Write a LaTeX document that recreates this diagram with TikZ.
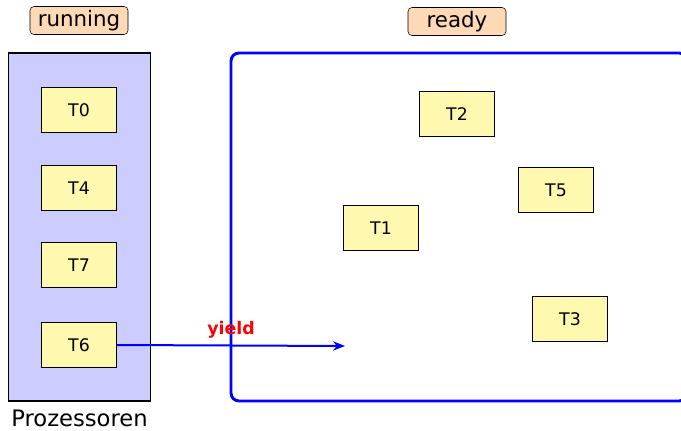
\documentclass[tikz,border=0pt]{standalone}
\usepackage{fontspec}
\setmainfont{DejaVu Sans}
\usetikzlibrary{arrows.meta,positioning}
\definecolor{cpeach}{RGB}{253,217,181}
\definecolor{cproc}{RGB}{204,204,255}
\definecolor{ctask}{RGB}{255,249,176}
\tikzset{
  sched/.style={x=0.75pt,y=-0.75pt,font=\fontsize{16}{19}\selectfont},
  tag/.style={draw,fill=cpeach,rounded corners=3pt,minimum width=73.5pt,minimum height=21pt,inner sep=1pt},
  task/.style={draw,line width=1.1pt,fill=ctask,minimum width=56pt,minimum height=34pt,inner sep=0pt,font=\fontsize{13}{15}\selectfont}
}
\begin{document}
\begin{tikzpicture}[sched]
    \useasboundingbox (0,0) rectangle (681,431);
    \clip (0,0) rectangle (681,431);
    % processors
    \node[draw,line width=0.8pt,fill=cproc,minimum width=107pt,minimum height=261pt,inner sep=0pt] (proc) at (79.5,227) {};
    \node[tag] (running) at (79,20.5) {running};
    \node[below=3pt of proc,font=\fontsize{17}{20}\selectfont] (proclbl) {Prozessoren};
    \foreach \t/\y in {T0/110,T4/188,T7/265,T6/345} \node[task] (\t) at (79,\y) {\t};
    % ready queue
    \node[draw=blue,line width=2.2pt,rounded corners=6pt,minimum width=342pt,minimum height=261pt,inner sep=0pt] (ready) at (459,227) {};
    \node[tag] (readytag) at (457,21.5) {ready};
    \foreach \t/\x/\y in {T2/457/114,T5/556/190,T1/381/228,T3/570/319} \node[task] (\t) at (\x,\y) {\t};
    % yield
    \coordinate (yend) at (345,346);
    \draw[blue,line width=1.5pt,-{Stealth[length=9pt,width=7pt]}] (T6.east) -- (yend);
    \node[red,font=\fontsize{13}{15}\selectfont\bfseries] (yield) at (231,330) {yield};
\end{tikzpicture}
\end{document}
